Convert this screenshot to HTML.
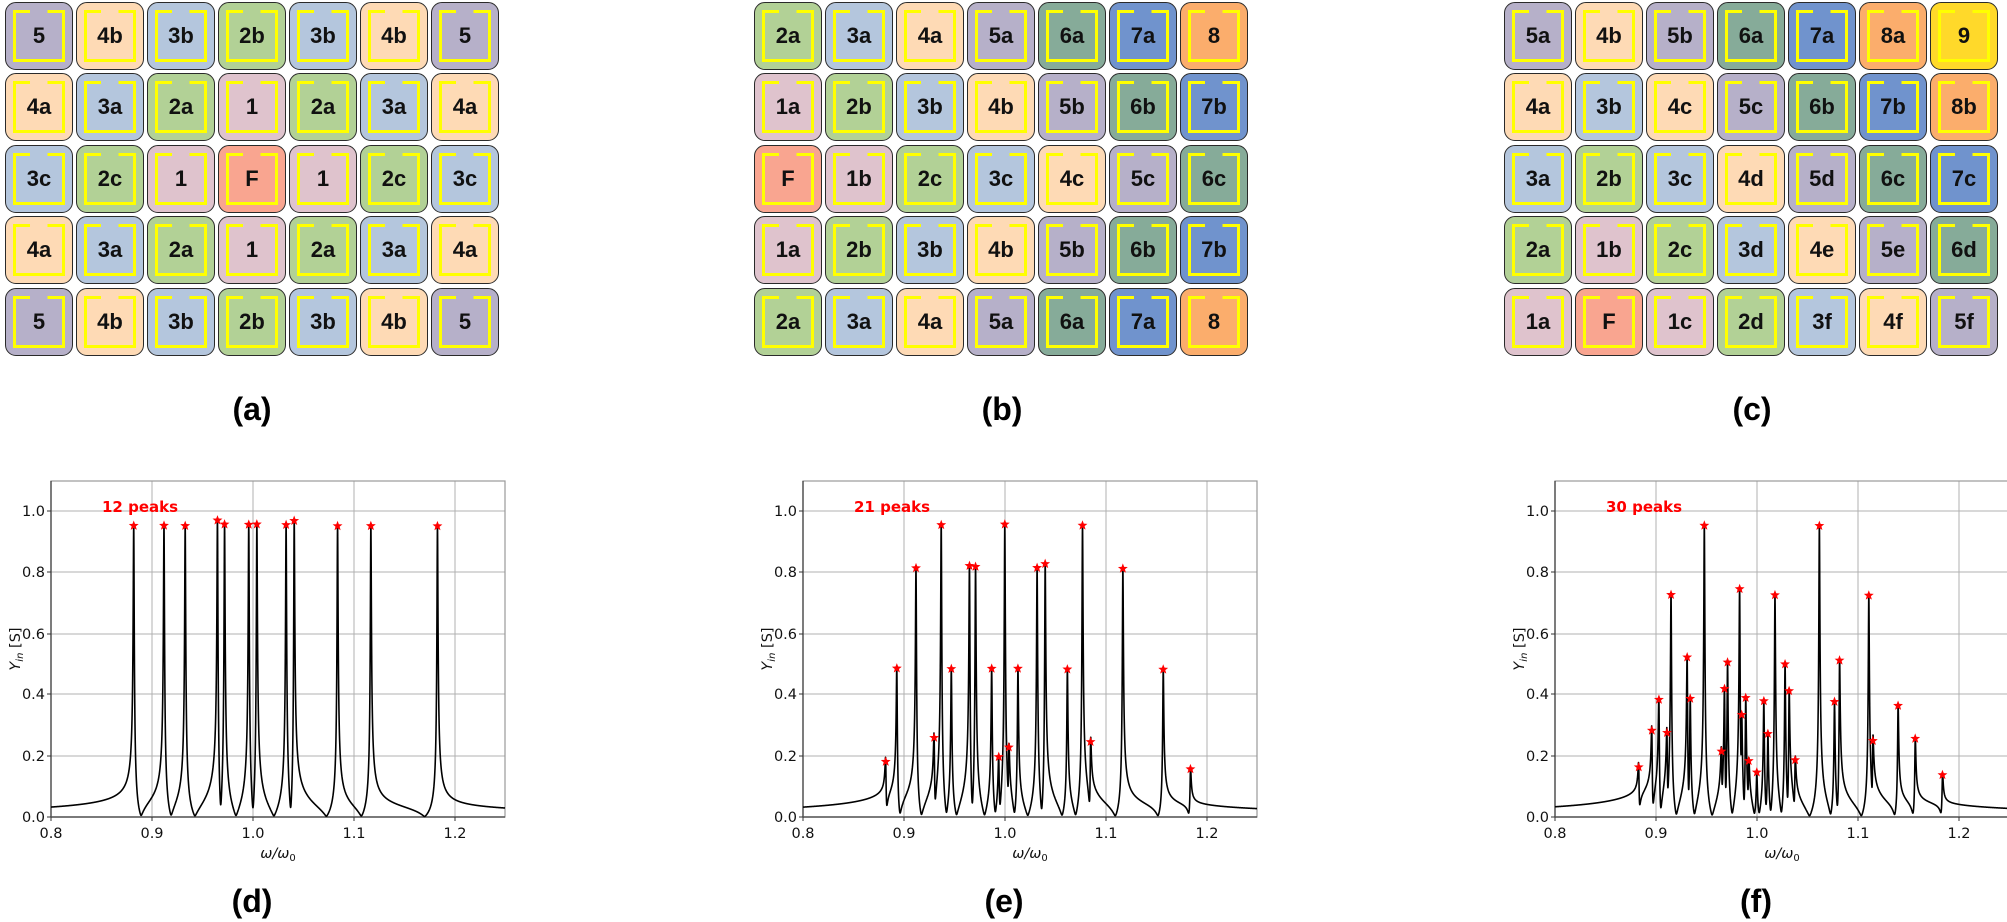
<!DOCTYPE html>
<html><head><meta charset="utf-8"><style>
html,body{margin:0;padding:0;background:#fff;width:2007px;height:922px;overflow:hidden;position:relative;font-family:"Liberation Sans",sans-serif}
.grid{position:absolute;top:2px;display:grid;grid-template-columns:repeat(7,68px);grid-auto-rows:68px;column-gap:3px;row-gap:3.4px}
.t{position:relative;box-sizing:border-box;border:1.5px solid #2a2a2a;border-radius:11px;display:flex;align-items:center;justify-content:center;font-weight:bold;font-size:22px;color:#111}
.t::before{content:"";position:absolute;left:7px;top:7px;right:7px;bottom:7px;border:3px solid #ffff00;border-top:none}
.t::after{content:"";position:absolute;left:7px;right:7px;top:7px;height:3px;background:linear-gradient(to right,#ff0 0,#ff0 33%,transparent 33%,transparent 66%,#ff0 66%)}
.c1{background:#dfc3cd}.c2{background:#b2d196}.c3{background:#b4c6dd}.c4{background:#fedab5}.c5{background:#b6b0c9}
.c6{background:#86ab99}.c7{background:#7093cd}.c8{background:#fbad6c}.c9{background:#ffd92a}.cF{background:#f9a590}
.lab{position:absolute;font-weight:bold;font-size:32px;transform:translateX(-50%)}
svg text{font-family:"DejaVu Sans",sans-serif}
</style></head><body>
<div class="grid" style="left:5px">
<div class="t c5">5</div><div class="t c4">4b</div><div class="t c3">3b</div><div class="t c2">2b</div><div class="t c3">3b</div><div class="t c4">4b</div><div class="t c5">5</div>
<div class="t c4">4a</div><div class="t c3">3a</div><div class="t c2">2a</div><div class="t c1">1</div><div class="t c2">2a</div><div class="t c3">3a</div><div class="t c4">4a</div>
<div class="t c3">3c</div><div class="t c2">2c</div><div class="t c1">1</div><div class="t cF">F</div><div class="t c1">1</div><div class="t c2">2c</div><div class="t c3">3c</div>
<div class="t c4">4a</div><div class="t c3">3a</div><div class="t c2">2a</div><div class="t c1">1</div><div class="t c2">2a</div><div class="t c3">3a</div><div class="t c4">4a</div>
<div class="t c5">5</div><div class="t c4">4b</div><div class="t c3">3b</div><div class="t c2">2b</div><div class="t c3">3b</div><div class="t c4">4b</div><div class="t c5">5</div>
</div>
<div class="grid" style="left:754px">
<div class="t c2">2a</div><div class="t c3">3a</div><div class="t c4">4a</div><div class="t c5">5a</div><div class="t c6">6a</div><div class="t c7">7a</div><div class="t c8">8</div>
<div class="t c1">1a</div><div class="t c2">2b</div><div class="t c3">3b</div><div class="t c4">4b</div><div class="t c5">5b</div><div class="t c6">6b</div><div class="t c7">7b</div>
<div class="t cF">F</div><div class="t c1">1b</div><div class="t c2">2c</div><div class="t c3">3c</div><div class="t c4">4c</div><div class="t c5">5c</div><div class="t c6">6c</div>
<div class="t c1">1a</div><div class="t c2">2b</div><div class="t c3">3b</div><div class="t c4">4b</div><div class="t c5">5b</div><div class="t c6">6b</div><div class="t c7">7b</div>
<div class="t c2">2a</div><div class="t c3">3a</div><div class="t c4">4a</div><div class="t c5">5a</div><div class="t c6">6a</div><div class="t c7">7a</div><div class="t c8">8</div>
</div>
<div class="grid" style="left:1504px">
<div class="t c5">5a</div><div class="t c4">4b</div><div class="t c5">5b</div><div class="t c6">6a</div><div class="t c7">7a</div><div class="t c8">8a</div><div class="t c9">9</div>
<div class="t c4">4a</div><div class="t c3">3b</div><div class="t c4">4c</div><div class="t c5">5c</div><div class="t c6">6b</div><div class="t c7">7b</div><div class="t c8">8b</div>
<div class="t c3">3a</div><div class="t c2">2b</div><div class="t c3">3c</div><div class="t c4">4d</div><div class="t c5">5d</div><div class="t c6">6c</div><div class="t c7">7c</div>
<div class="t c2">2a</div><div class="t c1">1b</div><div class="t c2">2c</div><div class="t c3">3d</div><div class="t c4">4e</div><div class="t c5">5e</div><div class="t c6">6d</div>
<div class="t c1">1a</div><div class="t cF">F</div><div class="t c1">1c</div><div class="t c2">2d</div><div class="t c3">3f</div><div class="t c4">4f</div><div class="t c5">5f</div>
</div>
<div class="lab" style="left:252px;top:391px">(a)</div>
<div class="lab" style="left:1002px;top:391px">(b)</div>
<div class="lab" style="left:1752px;top:391px">(c)</div>
<div class="lab" style="left:252px;top:883px">(d)</div>
<div class="lab" style="left:1004px;top:883px">(e)</div>
<div class="lab" style="left:1756px;top:883px">(f)</div>

<svg id="sv" width="2007" height="922" style="position:absolute;left:0;top:0" xmlns="http://www.w3.org/2000/svg">
<defs>
<g id="frame">
<g stroke="#b0b0b0" stroke-width="1">
<line x1="152" y1="481" x2="152" y2="817"/><line x1="253" y1="481" x2="253" y2="817"/><line x1="354" y1="481" x2="354" y2="817"/><line x1="455" y1="481" x2="455" y2="817"/>
<line x1="51" y1="756" x2="505" y2="756"/><line x1="51" y1="694" x2="505" y2="694"/><line x1="51" y1="634" x2="505" y2="634"/><line x1="51" y1="572" x2="505" y2="572"/><line x1="51" y1="511" x2="505" y2="511"/>
</g>
<rect x="51" y="481" width="454" height="336" fill="none" stroke="#999" stroke-width="1.2"/>
<line x1="51" y1="481" x2="51" y2="817" stroke="#333" stroke-width="1.2"/>
<line x1="51" y1="817" x2="505" y2="817" stroke="#555" stroke-width="1.5"/>
<g stroke="#333" stroke-width="1">
<line x1="47" y1="817" x2="51" y2="817"/><line x1="47" y1="756" x2="51" y2="756"/><line x1="47" y1="694" x2="51" y2="694"/><line x1="47" y1="634" x2="51" y2="634"/><line x1="47" y1="572" x2="51" y2="572"/><line x1="47" y1="511" x2="51" y2="511"/>
<line x1="51" y1="817" x2="51" y2="821"/><line x1="152" y1="817" x2="152" y2="821"/><line x1="253" y1="817" x2="253" y2="821"/><line x1="354" y1="817" x2="354" y2="821"/><line x1="455" y1="817" x2="455" y2="821"/>
</g>
</g>
</defs>
<g id="p0"><use href="#frame"/></g>
<g id="p1" transform="translate(752,0)"><use href="#frame"/></g>
<g id="p2" transform="translate(1504,0)"><use href="#frame"/></g>

<g font-size="14.5" fill="#111">
<g text-anchor="end">
<text x="45" y="822">0.0</text><text x="45" y="761">0.2</text><text x="45" y="699">0.4</text><text x="45" y="639">0.6</text><text x="45" y="577">0.8</text><text x="45" y="516">1.0</text>
<text x="797" y="822">0.0</text><text x="797" y="761">0.2</text><text x="797" y="699">0.4</text><text x="797" y="639">0.6</text><text x="797" y="577">0.8</text><text x="797" y="516">1.0</text>
<text x="1549" y="822">0.0</text><text x="1549" y="761">0.2</text><text x="1549" y="699">0.4</text><text x="1549" y="639">0.6</text><text x="1549" y="577">0.8</text><text x="1549" y="516">1.0</text>
</g>
<g text-anchor="middle">
<text x="51" y="838">0.8</text><text x="152" y="838">0.9</text><text x="253" y="838">1.0</text><text x="354" y="838">1.1</text><text x="455" y="838">1.2</text>
<text x="803" y="838">0.8</text><text x="904" y="838">0.9</text><text x="1005" y="838">1.0</text><text x="1106" y="838">1.1</text><text x="1207" y="838">1.2</text>
<text x="1555" y="838">0.8</text><text x="1656" y="838">0.9</text><text x="1757" y="838">1.0</text><text x="1858" y="838">1.1</text><text x="1959" y="838">1.2</text>
<text x="278" y="858" font-style="italic">ω/ω<tspan font-size="10" dy="3" font-style="normal">0</tspan></text>
<text x="1030" y="858" font-style="italic">ω/ω<tspan font-size="10" dy="3" font-style="normal">0</tspan></text>
<text x="1782" y="858" font-style="italic">ω/ω<tspan font-size="10" dy="3" font-style="normal">0</tspan></text>
<text transform="translate(20,649) rotate(-90)"><tspan font-style="italic">Y</tspan><tspan font-size="10" dy="3" font-style="italic">in</tspan><tspan dy="-3"> [S]</tspan></text>
<text transform="translate(772,649) rotate(-90)"><tspan font-style="italic">Y</tspan><tspan font-size="10" dy="3" font-style="italic">in</tspan><tspan dy="-3"> [S]</tspan></text>
<text transform="translate(1524,649) rotate(-90)"><tspan font-style="italic">Y</tspan><tspan font-size="10" dy="3" font-style="italic">in</tspan><tspan dy="-3"> [S]</tspan></text>
</g>
<g fill="#ff0000" font-weight="bold" font-size="15">
<text x="102" y="512">12 peaks</text>
<text x="854" y="512">21 peaks</text>
<text x="1606" y="512">30 peaks</text>
</g>
</g>
</svg>
<script>
(function(){
var NS="http://www.w3.org/2000/svg";
var sets=[
[[0.882,.95],[0.912,.95],[0.933,.95],[0.965,.96],[0.972,.95],[0.996,.95],[1.004,.95],[1.033,.95],[1.041,.96],[1.084,.95],[1.117,.95],[1.183,.95]],
[[0.882,.16],[0.893,.48],[0.912,.81],[0.930,.23],[0.937,.95],[0.947,.48],[0.965,.81],[0.971,.81],[0.987,.48],[0.994,.18],[1.0,.95],[1.004,.18],[1.013,.48],[1.032,.81],[1.040,.82],[1.062,.48],[1.077,.95],[1.085,.22],[1.117,.81],[1.157,.48],[1.184,.15]],
[[0.883,.14],[0.896,.26],[0.903,.37],[0.911,.23],[0.915,.72],[0.931,.50],[0.934,.37],[0.948,.95],[0.965,.16],[0.968,.39],[0.971,.49],[0.983,.72],[0.985,.26],[0.989,.37],[0.992,.14],[1.000,.14],[1.007,.37],[1.011,.26],[1.018,.72],[1.028,.49],[1.032,.39],[1.038,.16],[1.062,.95],[1.077,.37],[1.082,.50],[1.111,.72],[1.115,.20],[1.140,.36],[1.157,.25],[1.184,.13]]
];
var g=0.0005;
function Y(x,pk){var re=0,im=0;for(var i=0;i<pk.length;i++){var d=x-pk[i][0],c=pk[i][1]*g,den=g*g+d*d;re+=c*g/den;im-=c*d/den;}return Math.sqrt(re*re+im*im);}
function px(x){return 51+(x-0.8)*1009;}function py(v){return 817-306*Math.min(v,1.098);}
for(var k=0;k<3;k++){
var pk=sets[k],xs=[];
for(var x=0.8;x<=1.25;x+=0.00004)xs.push(x);
pk.forEach(function(p){xs.push(p[0]);});
xs.sort(function(a,b){return a-b;});
var d="";
xs.forEach(function(x,i){d+=(i?"L":"M")+px(x).toFixed(2)+" "+py(Y(x,pk)).toFixed(2);});
var grp=document.getElementById("p"+k);
var path=document.createElementNS(NS,"path");
path.setAttribute("d",d);path.setAttribute("fill","none");path.setAttribute("stroke","#000");path.setAttribute("stroke-width","1.6");path.setAttribute("stroke-linejoin","round");
grp.appendChild(path);
pk.forEach(function(p){
var cx=px(p[0]),cy=py(Y(p[0],pk)),pts=[];
for(var j=0;j<10;j++){var r=j%2?2.2:5.2,a=-Math.PI/2+j*Math.PI/5;pts.push((cx+r*Math.cos(a)).toFixed(2)+","+(cy+r*Math.sin(a)).toFixed(2));}
var s=document.createElementNS(NS,"polygon");s.setAttribute("points",pts.join(" "));s.setAttribute("fill","#ff0000");
grp.appendChild(s);
});
}
})();
</script>
</body></html>
